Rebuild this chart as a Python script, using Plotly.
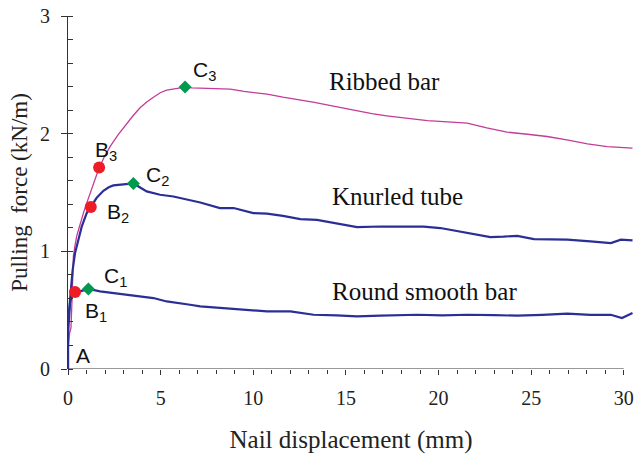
import plotly.graph_objects as go

# ---------------- data ----------------
ribbed_x = [0, 0.02, 0.08, 0.16, 0.22, 0.29, 0.38, 0.47, 0.6, 0.74, 0.88, 1.01, 1.2, 1.37, 1.52, 1.68,
            1.95, 2.27, 2.7, 3.17, 3.5, 3.89, 4.25, 4.61, 5.0, 5.33, 5.8, 6.32, 6.7, 7.14, 7.7, 8.2,
            8.76, 9.5, 10.2, 10.74, 11.6, 12.54, 13.3, 13.98, 14.8, 15.6, 16.4, 17.2, 18.3, 19.4,
            20.5, 21.55, 22.6, 23.7, 24.8, 25.86, 27.0, 28.04, 29.1, 29.8, 30.47]
ribbed_y = [0, 0.2, 0.3, 0.35, 0.6, 0.96, 1.05, 1.13, 1.2, 1.28, 1.35, 1.41, 1.49, 1.57, 1.64, 1.71,
            1.80, 1.89, 1.99, 2.09, 2.15, 2.22, 2.27, 2.31, 2.35, 2.37, 2.385, 2.396, 2.39, 2.387, 2.385, 2.38,
            2.379, 2.36, 2.345, 2.336, 2.31, 2.288, 2.265, 2.245, 2.22, 2.19, 2.17, 2.152, 2.13, 2.11,
            2.10, 2.09, 2.05, 2.013, 1.995, 1.976, 1.945, 1.914, 1.89, 1.885, 1.877]

knurled_x = [0, 0.0, 0.05, 0.11, 0.18, 0.25, 0.38, 0.56, 0.74, 1.01, 1.23, 1.55, 1.91, 2.2, 2.45, 2.99,
             3.53, 4.25, 4.97, 5.69, 6.59, 7.14, 8.2, 8.94, 10.0, 10.74, 11.6, 12.54, 13.44, 14.34,
             15.6, 16.9, 18.3, 19.2, 20.1, 21.5, 22.8, 23.5, 24.25, 25.15, 26.0, 26.95, 28.2, 29.3,
             29.84, 30.47]
knurled_y = [0, 0.4, 0.48, 0.59, 0.72, 0.84, 0.985, 1.10, 1.21, 1.325, 1.376, 1.455, 1.515, 1.545, 1.56, 1.568,
             1.577, 1.509, 1.481, 1.466, 1.438, 1.415, 1.368, 1.368, 1.325, 1.32, 1.302, 1.274, 1.268, 1.24,
             1.206, 1.211, 1.211, 1.21, 1.198, 1.16, 1.121, 1.125, 1.132, 1.104, 1.10, 1.099, 1.084, 1.07,
             1.099, 1.093]

round_x = [0, 0.0, 0.05, 0.11, 0.2, 0.38, 0.65, 1.10, 1.73, 2.45, 3.17, 3.89, 4.61, 5.33, 6.05, 6.59,
           7.14, 8.2, 9.48, 10.74, 12.0, 13.26, 14.5, 15.6, 16.86, 18.85, 20.2, 21.55, 23.0, 24.25,
           25.6, 26.95, 28.2, 29.3, 29.9, 30.47]
round_y = [0, 0.3, 0.42, 0.56, 0.62, 0.654, 0.66, 0.68, 0.66, 0.646, 0.631, 0.617, 0.603, 0.574, 0.56, 0.546,
           0.532, 0.518, 0.504, 0.489, 0.489, 0.461, 0.455, 0.447, 0.453, 0.461, 0.455, 0.461, 0.458, 0.453,
           0.46, 0.47, 0.46, 0.461, 0.433, 0.476]

# characteristic points
B_x = [0.38, 1.23, 1.68]
B_y = [0.654, 1.376, 1.713]
B_labels = ["B<sub>1</sub>", "B<sub>2</sub>", "B<sub>3</sub>"]
C_x = [1.10, 3.53, 6.32]
C_y = [0.68, 1.577, 2.396]
C_labels = ["C<sub>1</sub>", "C<sub>2</sub>", "C<sub>3</sub>"]

curve_names = ["Ribbed bar", "Knurled tube", "Round smooth bar"]
curve_label_x = [14.0, 14.16, 14.16]
curve_label_y = [2.441, 1.465, 0.66]

x_ticks = [0, 5, 10, 15, 20, 25, 30]
y_ticks = [0, 1, 2, 3]

# ---------------- styling ----------------
BLUE = "#2b2f95"
MAGENTA = "#c23c98"
RED = "#ee1c25"
GREEN = "#00994d"
SERIF = "Liberation Serif"
SANS = "Liberation Sans"

fig = go.Figure()
fig.add_trace(go.Scatter(x=ribbed_x, y=ribbed_y, mode="lines",
                         line=dict(color=MAGENTA, width=1.3), name=curve_names[0]))
fig.add_trace(go.Scatter(x=knurled_x, y=knurled_y, mode="lines",
                         line=dict(color=BLUE, width=2.2), name=curve_names[1]))
fig.add_trace(go.Scatter(x=round_x, y=round_y, mode="lines",
                         line=dict(color=BLUE, width=2.2), name=curve_names[2]))
fig.add_trace(go.Scatter(x=B_x, y=B_y, mode="markers",
                         marker=dict(color=RED, size=12, symbol="circle"), name="B"))
fig.add_trace(go.Scatter(x=C_x, y=C_y, mode="markers",
                         marker=dict(color=GREEN, size=10, symbol="diamond"), name="C"))

# point labels (pixel offsets from the marker)
B_shift = [(8, -20), (14, -6), (-6, 16)]
C_shift = [(14, 12), (11, 7), (6, 16)]
for xs, ys, labs, shifts in [(B_x, B_y, B_labels, B_shift), (C_x, C_y, C_labels, C_shift)]:
    for xv, yv, lab, (dx, dy) in zip(xs, ys, labs, shifts):
        fig.add_annotation(x=xv, y=yv, text=lab, showarrow=False, xanchor="left", yanchor="middle",
                           xshift=dx, yshift=dy, font=dict(family=SANS, size=21, color="#111"))
fig.add_annotation(x=0, y=0, text="A", showarrow=False, xanchor="left", yanchor="middle",
                   xshift=6, yshift=14, font=dict(family=SANS, size=21, color="#111"))

for name, lx, ly in zip(curve_names, curve_label_x, curve_label_y):
    fig.add_annotation(x=lx, y=ly, text=name, showarrow=False, xanchor="left", yanchor="middle",
                       font=dict(family=SERIF, size=25, color="#111"))

# x axis line (ends at the 30 tick)
fig.add_shape(type="line", x0=0, x1=x_ticks[-1], y0=0, y1=0, xref="x", yref="y",
              line=dict(color="#333", width=1), layer="below")

fig.update_layout(
    width=634, height=456,
    margin=dict(l=68, r=0, t=16, b=87),
    paper_bgcolor="white", plot_bgcolor="white",
    showlegend=False,
    font=dict(family=SERIF),
    xaxis=dict(range=[0, 30.55], showline=False, showgrid=False, zeroline=False,
               tickmode="array", tickvals=x_ticks, ticktext=[str(v) for v in x_ticks],
               ticks="outside", ticklen=5, tickwidth=1, tickcolor="#333",
               minor=dict(ticks="outside", dtick=1, tick0=0, ticklen=4, tickwidth=1, tickcolor="#333"),
               tickfont=dict(family=SERIF, size=20, color="#222"), ticklabelstandoff=6,
               title=dict(text="Nail displacement (mm)", font=dict(family=SERIF, size=25, color="#222"),
                          standoff=22)),
    yaxis=dict(range=[0, 3], showline=True, linecolor="#333", linewidth=1, showgrid=False, zeroline=False,
               tickmode="array", tickvals=y_ticks, ticktext=[str(v) for v in y_ticks],
               ticks="outside", ticklen=6, tickwidth=1, tickcolor="#333",
               minor=dict(ticks="inside", dtick=0.2, tick0=0, ticklen=4.5, tickwidth=1, tickcolor="#333"),
               tickfont=dict(family=SERIF, size=20, color="#222"), ticklabelstandoff=7,
               title=dict(text="Pulling\u00a0 force (kN/m)", font=dict(family=SERIF, size=23, color="#222"),
                          standoff=5)),
)

fig.write_html("out.html")
